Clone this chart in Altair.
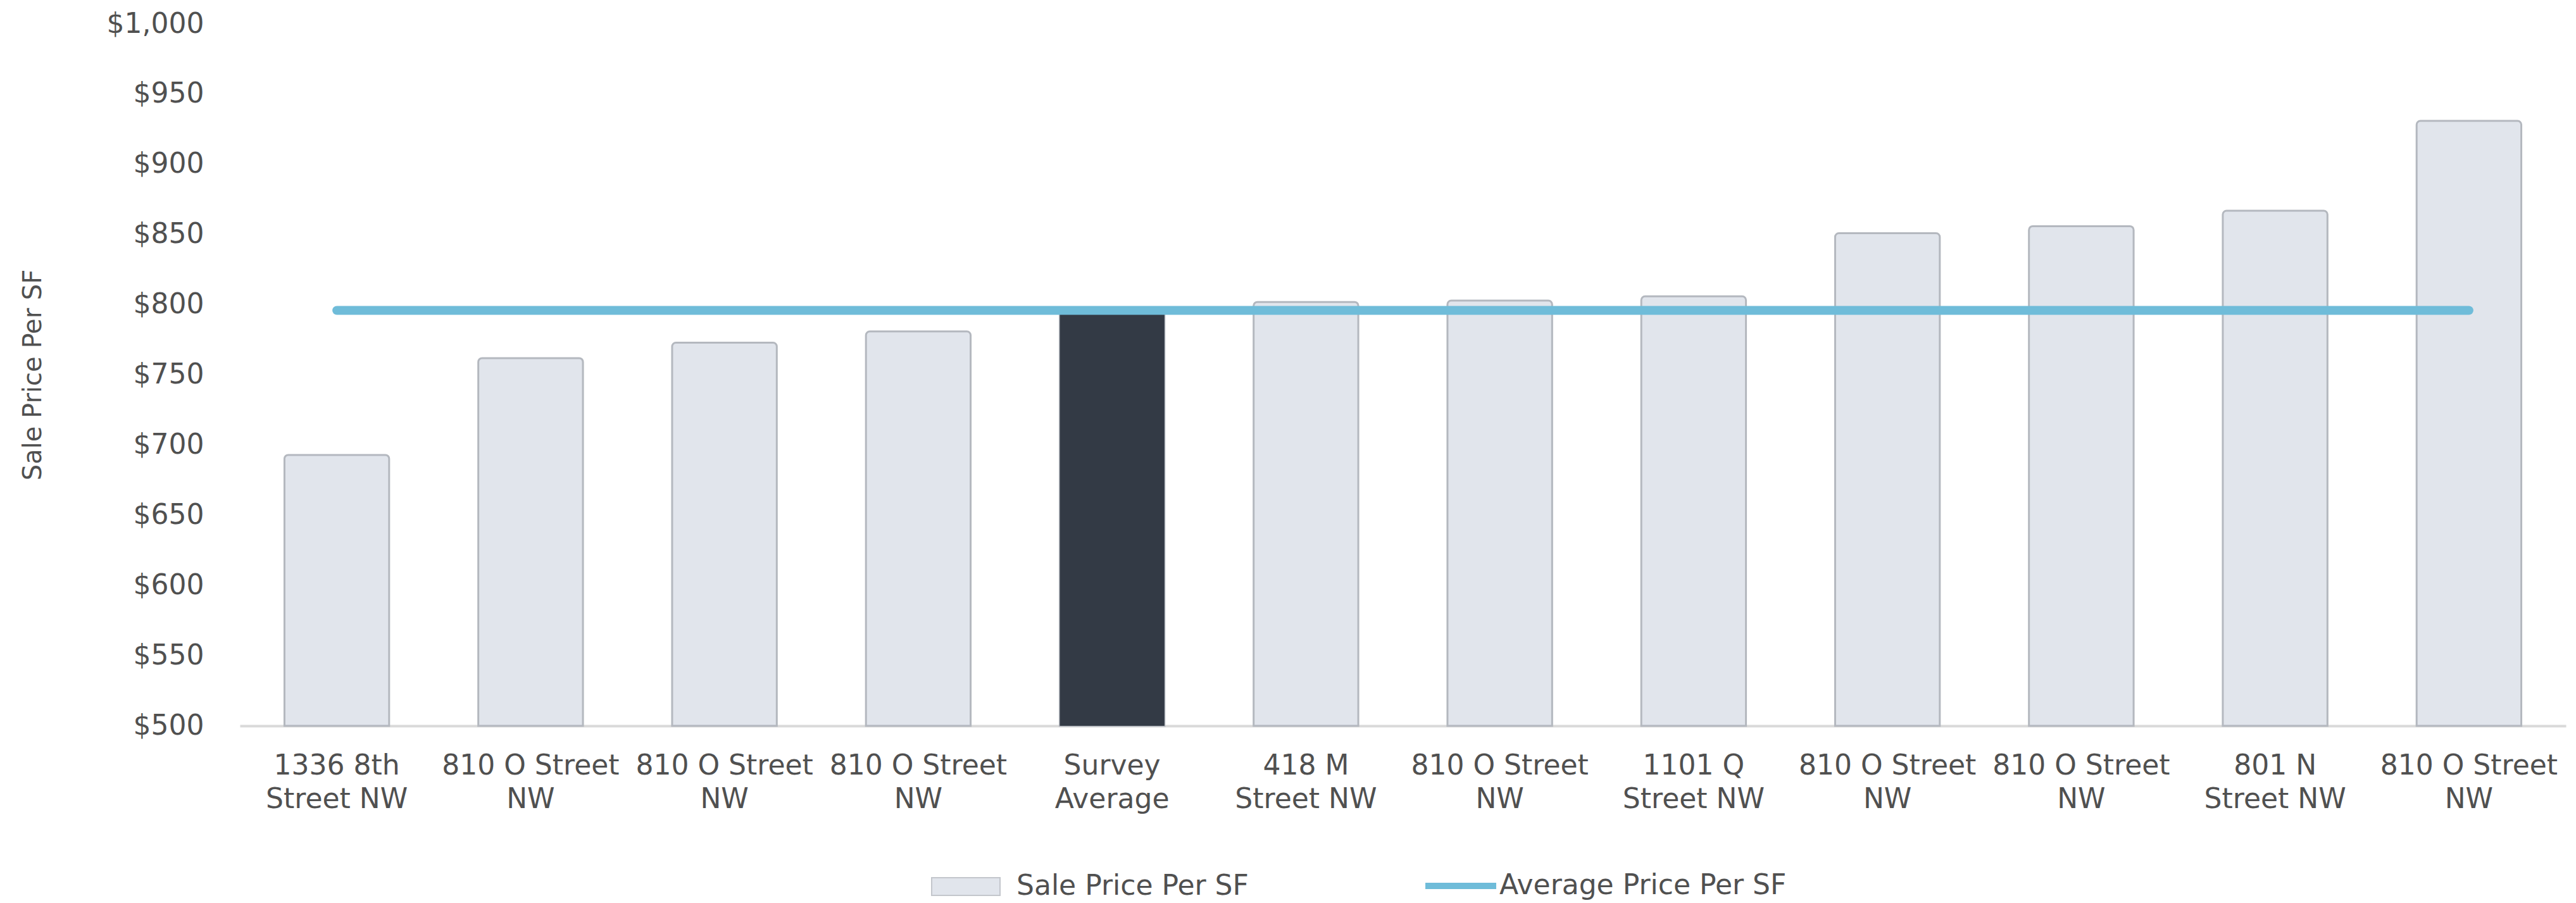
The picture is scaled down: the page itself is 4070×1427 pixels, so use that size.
import json
import altair as alt
import pandas as pd

# ---- data ----
label_line1 = ["1336 8th", "810 O Street", "810 O Street", "810 O Street", "Survey",
               "418 M", "810 O Street", "1101 Q", "810 O Street", "810 O Street",
               "801 N", "810 O Street"]
label_line2 = ["Street NW", "NW", "NW", "NW", "Average",
               "Street NW", "NW", "Street NW", "NW", "NW",
               "Street NW", "NW"]
sale_price = [693, 762, 773, 781, 796, 802, 803, 806, 851, 856, 867, 931]
average_price = [796, 796, 796, 796, 796, 796, 796, 796, 796, 796, 796, 796]
highlight = [False, False, False, False, True, False, False, False, False, False, False, False]
y_ticks = [500, 550, 600, 650, 700, 750, 800, 850, 900, 950, 1000]
y_min = 500

df = pd.DataFrame({
    "idx": list(range(len(sale_price))),
    "sale": sale_price,
    "avg": average_price,
    "highlight": highlight,
    "series": ["Sale Price Per SF"] * len(sale_price),
    "series2": ["Average Price Per SF"] * len(sale_price),
})

FONT = "DejaVu Sans"
TXT = "#505050"

label_expr = "[{}[datum.value], {}[datum.value]]".format(
    json.dumps(label_line1).replace('"', "'"), json.dumps(label_line2).replace('"', "'"))

x_enc = alt.X(
    "idx:O",
    scale=alt.Scale(paddingInner=0.46, paddingOuter=0.23),
    axis=alt.Axis(
        title=None, labelExpr=label_expr, labelAngle=0, labelFont=FONT,
        labelFontSize=44, labelLineHeight=53, labelPadding=41, labelColor=TXT,
        labelLimit=1000, labelOverlap=False, labelBound=False,
        domainColor="#d9d9d9", domainWidth=4, ticks=False, grid=False,
    ),
)

y_scale = alt.Scale(domain=[500, 1000], zero=False, nice=False)
y_axis = alt.Axis(
    title="Sale Price Per SF", values=y_ticks, format="$,.0f",
    labelFont=FONT, labelFontSize=44, labelColor=TXT, labelPadding=57,
    labelLimit=1000, ticks=False, domain=False, grid=False,
    titleFont=FONT, titleFontSize=40, titleFontWeight="normal", titleColor=TXT,
    titleX=-327, titleY=554, titleAngle=270, titleAlign="center", titleBaseline="middle",
)

base = alt.Chart(df)

bars = base.mark_bar(
    stroke="#b4b8bf", strokeWidth=3, cornerRadiusTopLeft=6, cornerRadiusTopRight=6
).encode(
    x=x_enc,
    y=alt.Y("sale:Q", scale=y_scale, axis=y_axis),
    y2=alt.Y2(datum=y_min),
    fill=alt.Fill(
        "series:N",
        scale=alt.Scale(range=["#e1e5ec"]),
        legend=alt.Legend(
            title=None, orient="none", legendX=1092, legendY=1308,
            symbolType="M-1,-0.26L1,-0.26L1,0.26L-1,0.26Z", symbolSize=11664,
            symbolStrokeColor="#c3c6cc", symbolStrokeWidth=2,
            labelFont=FONT, labelFontSize=44, labelColor=TXT, labelOffset=25,
            labelLimit=1000,
        ),
    ),
)

dark = base.mark_bar(fill="#333a45", strokeWidth=0).encode(
    x=x_enc,
    y=alt.Y("sale:Q", scale=y_scale),
    y2=alt.Y2(datum=y_min),
).transform_filter("datum.highlight")

line = base.mark_line(strokeWidth=14, strokeCap="round").encode(
    x=x_enc,
    y=alt.Y("avg:Q", scale=y_scale),
    stroke=alt.Stroke(
        "series2:N",
        scale=alt.Scale(range=["#6fbcd9"]),
        legend=alt.Legend(
            title=None, orient="none", legendX=1868, legendY=1301,
            symbolType="stroke", symbolSize=12544, symbolStrokeWidth=10,
            labelFont=FONT, labelFontSize=44, labelColor=TXT, labelOffset=0,
            labelLimit=1000,
        ),
    ),
)

chart = alt.layer(bars, dark, line).properties(
    width=3675, height=1109,
    autosize=alt.AutoSizeParams(type="none"),
    padding={"left": 379, "top": 38, "right": 16, "bottom": 280},
    background="white",
).resolve_scale(fill="independent", stroke="independent").configure_view(stroke=None)

chart.save("out.html", embed_options={"renderer": "svg", "actions": False})
